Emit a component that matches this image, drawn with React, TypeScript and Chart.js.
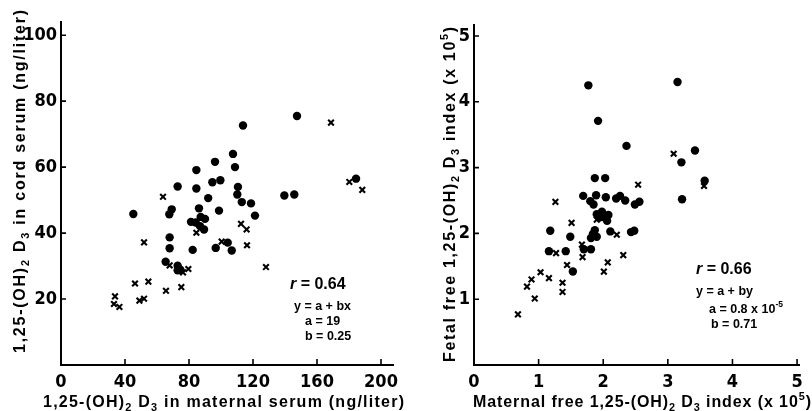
import React, { useEffect, useRef } from "react";
import { Chart, registerables } from "chart.js";

Chart.register(...registerables);

// ---------- Panel A: 1,25-(OH)2D3, cord vs maternal serum (ng/liter) ----------
const serumDotsMaternal = [147.5, 113.75, 107.5, 96.25, 108.75, 84.6, 99.6, 94.6, 110.6, 72.9, 84.6, 184.4, 139.6, 145.8, 110.2, 92, 113, 118.75, 45.2, 69.2, 67.7, 86.25, 98.75, 121.25, 87.3, 90, 81.25, 84.2, 86.9, 89.4, 67.9, 67.9, 82.3, 96.7, 104.2, 106.7, 65.4, 72.9, 72.9, 74.6];
const serumDotsCord = [75.5, 72.6, 64, 61.6, 60, 59.1, 56, 55.4, 54, 54.1, 53.5, 56.5, 51.4, 51.7, 51.7, 50.6, 49.4, 49, 45.8, 47.2, 45.7, 47.5, 46.8, 45.3, 44.9, 44.3, 43.4, 43.2, 42.1, 41.1, 38.7, 35.4, 34.9, 35.5, 37.1, 34.7, 31.3, 30.1, 28.7, 28.9];
const serumCrossMaternal = [168.75, 180.2, 188.3, 63.75, 112.5, 116, 84.6, 100.4, 116.25, 51.9, 67.9, 76.25, 79.6, 128.1, 46.25, 54.6, 65.6, 75.2, 33.75, 33.1, 36.5, 49, 51.9];
const serumCrossCord = [73.5, 55.5, 53.1, 51, 42.8, 41.1, 40.1, 37.4, 36.3, 37.2, 30.2, 28.1, 29.1, 29.7, 24.7, 25.3, 22.5, 23.6, 20.8, 18.5, 17.6, 19.5, 20.1];
const serumXTicks = [0, 40, 80, 120, 160, 200];
const serumYTicks = [20, 40, 60, 80, 100];

// ---------- Panel B: free 1,25-(OH)2D3 index (x 10^5) ----------
const indexDotsMaternal = [1.77, 3.15, 1.92, 2.36, 3.42, 3.21, 3.57, 3.22, 1.87, 2.03, 1.69, 1.89, 1.8, 1.85, 2.04, 2.2, 2.26, 2.34, 2.49, 2.56, 1.9, 1.98, 2.0, 2.08, 2.06, 1.94, 1.87, 1.84, 1.81, 1.9, 2.11, 2.43, 2.48, 1.7, 1.81, 1.49, 1.18, 1.16, 1.42, 1.53];
const indexDotsFetal = [4.25, 4.3, 3.71, 3.33, 3.26, 3.08, 2.8, 2.52, 2.84, 2.84, 2.57, 2.58, 2.49, 2.44, 2.55, 2.53, 2.57, 2.5, 2.44, 2.48, 2.29, 2.33, 2.25, 2.28, 2.19, 2.24, 2.05, 1.99, 1.93, 1.95, 2.03, 2.02, 2.04, 1.76, 1.76, 1.95, 2.04, 1.73, 1.73, 1.42];
const indexCrossMaternal = [3.09, 3.56, 2.54, 1.26, 1.51, 1.9, 2.21, 1.67, 1.27, 1.68, 2.31, 1.44, 2.07, 2.01, 1.03, 1.16, 0.89, 1.37, 0.82, 1.37, 0.94, 0.68];
const indexCrossFetal = [3.21, 2.72, 2.74, 2.48, 2.16, 2.21, 1.98, 1.83, 1.7, 1.64, 1.67, 1.52, 1.56, 1.42, 1.41, 1.32, 1.3, 1.25, 1.19, 1.11, 1.01, 0.77];
const indexXTicks = [0, 1, 2, 3, 4, 5];
const indexYTicks = [1, 2, 3, 4, 5];

// ---------- styling ----------
const TICK_FONT = "'Liberation Sans Narrow', 'DejaVu Sans Condensed', 'Liberation Sans', sans-serif";
const TEXT_FONT = "'Liberation Sans', 'DejaVu Sans', sans-serif";

type Run = { t: string; s?: "sub" | "sup"; i?: boolean };
type Note = { runs: Run[]; x: number; y: number; size: number };

interface PanelCfg {
  dotsX: number[]; dotsY: number[]; crossX: number[]; crossY: number[];
  xMax: number; yMax: number; xTicks: number[]; yTicks: number[];
  yAxisWidth: number; padTop: number;
  xTitle: Run[]; xTitleCenter: [number, number]; xTitleWidth: number;
  yTitle: Run[]; yTitleCenter: [number, number]; yTitleWidth: number;
  notes: Note[];
}

const D3: Run[] = [{ t: "1,25-(OH)" }, { t: "2", s: "sub" }, { t: " D" }, { t: "3", s: "sub" }];

const panelA: PanelCfg = {
  dotsX: serumDotsMaternal, dotsY: serumDotsCord,
  crossX: serumCrossMaternal, crossY: serumCrossCord,
  xMax: 207.5, yMax: 104, xTicks: serumXTicks, yTicks: serumYTicks,
  yAxisWidth: 61, padTop: 22,
  xTitle: [...D3, { t: " in maternal serum (ng/liter)" }], xTitleCenter: [223.5, 401], xTitleWidth: 361,
  yTitle: [...D3, { t: " in cord serum (ng/liter)" }], yTitleCenter: [19, 181.5], yTitleWidth: 343,
  notes: [
    { runs: [{ t: "r", i: true }, { t: " = 0.64" }], x: 290, y: 283, size: 16 },
    { runs: [{ t: "y = a + bx" }], x: 294, y: 305, size: 12.5 },
    { runs: [{ t: "a = 19" }], x: 305, y: 320, size: 12.5 },
    { runs: [{ t: "b = 0.25" }], x: 305, y: 335, size: 12.5 },
  ],
};

const panelB: PanelCfg = {
  dotsX: indexDotsMaternal, dotsY: indexDotsFetal,
  crossX: indexCrossMaternal, crossY: indexCrossFetal,
  xMax: 5.03, yMax: 5.167, xTicks: indexXTicks, yTicks: indexYTicks,
  yAxisWidth: 68, padTop: 25,
  xTitle: [{ t: "Maternal free " }, ...D3, { t: " index (x 10" }, { t: "5", s: "sup" }, { t: ")" }], xTitleCenter: [236, 401], xTitleWidth: 338,
  yTitle: [{ t: "Fetal free " }, ...D3, { t: " index (x 10" }, { t: "5", s: "sup" }, { t: ")" }], yTitleCenter: [43, 194.5], yTitleWidth: 335,
  notes: [
    { runs: [{ t: "r", i: true }, { t: " = 0.66" }], x: 290, y: 268, size: 16 },
    { runs: [{ t: "y = a + by" }], x: 290, y: 290, size: 12.5 },
    { runs: [{ t: "a = 0.8 x 10" }, { t: "-5", s: "sup" }], x: 303, y: 308, size: 12.5 },
    { runs: [{ t: "b = 0.71" }], x: 305, y: 323, size: 12.5 },
  ],
};

function fontFor(r: Run, size: number) {
  const fs = r.s ? size * 0.68 : size;
  return `${r.i ? "italic " : ""}bold ${fs}px ${TEXT_FONT}`;
}

function measureRuns(ctx: CanvasRenderingContext2D, runs: Run[], size: number) {
  let w = 0, n = 0;
  for (const r of runs) {
    ctx.font = fontFor(r, size);
    for (const ch of r.t) { w += ctx.measureText(ch).width; n++; }
  }
  return { w, n };
}

function drawRuns(ctx: CanvasRenderingContext2D, runs: Run[], size: number, x0: number, base: number, spacing: number) {
  let x = x0;
  for (const r of runs) {
    ctx.font = fontFor(r, size);
    const dy = r.s === "sub" ? size * 0.28 : r.s === "sup" ? -size * 0.45 : 0;
    for (const ch of r.t) {
      ctx.fillText(ch, x, base + dy);
      x += ctx.measureText(ch).width + spacing;
    }
  }
}

function drawTitle(ctx: CanvasRenderingContext2D, runs: Run[], size: number, cx: number, cy: number, width: number, rotate: boolean) {
  const { w, n } = measureRuns(ctx, runs, size);
  const spacing = n > 1 ? (width - w) / (n - 1) : 0;
  ctx.save();
  ctx.translate(cx, cy);
  if (rotate) ctx.rotate(-Math.PI / 2);
  ctx.textAlign = "left";
  ctx.textBaseline = "alphabetic";
  drawRuns(ctx, runs, size, -width / 2, size * 0.36, spacing);
  ctx.restore();
}

function buildConfig(cfg: PanelCfg): any {
  const decor = {
    id: "decor",
    afterDraw(chart: any) {
      const ctx: CanvasRenderingContext2D = chart.ctx;
      const xs = chart.scales.x, ys = chart.scales.y;
      const area = chart.chartArea;
      ctx.save();
      ctx.strokeStyle = "#000";
      ctx.fillStyle = "#000";
      ctx.lineWidth = 1.6;
      ctx.beginPath();
      for (const t of xs.ticks) {
        if (t.value === 0) continue;
        const px = xs.getPixelForValue(t.value);
        ctx.moveTo(px, area.bottom);
        ctx.lineTo(px, area.bottom - 6);
      }
      for (const t of ys.ticks) {
        const py = ys.getPixelForValue(t.value);
        ctx.moveTo(area.left, py);
        ctx.lineTo(area.left + 5, py);
      }
      ctx.stroke();
      drawTitle(ctx, cfg.xTitle, 16, cfg.xTitleCenter[0], cfg.xTitleCenter[1], cfg.xTitleWidth, false);
      drawTitle(ctx, cfg.yTitle, 16, cfg.yTitleCenter[0], cfg.yTitleCenter[1], cfg.yTitleWidth, true);
      ctx.textAlign = "left";
      ctx.textBaseline = "alphabetic";
      for (const note of cfg.notes) {
        drawRuns(ctx, note.runs, note.size, note.x, note.y + note.size * 0.36, 0);
      }
      ctx.restore();
    },
  };

  const tickFont = { family: TICK_FONT, size: 18, weight: "bold" as const };

  return {
    type: "scatter",
    data: {
      datasets: [
        {
          data: cfg.dotsX.map((x, i) => ({ x, y: cfg.dotsY[i] })),
          pointStyle: "circle",
          pointRadius: 4.2,
          backgroundColor: "#000",
          borderColor: "#000",
          borderWidth: 0,
        },
        {
          data: cfg.crossX.map((x, i) => ({ x, y: cfg.crossY[i] })),
          pointStyle: "crossRot",
          pointRadius: 4,
          backgroundColor: "#000",
          borderColor: "#000",
          borderWidth: 2.1,
        },
      ],
    },
    options: {
      responsive: false,
      animation: false,
      events: [],
      layout: { padding: { top: cfg.padTop, right: 13, left: 0, bottom: 0 }, autoPadding: false },
      plugins: { legend: { display: false }, tooltip: { enabled: false } },
      scales: {
        x: {
          type: "linear",
          min: 0,
          max: cfg.xMax,
          afterFit: (s: any) => { s.height = 46; },
          afterBuildTicks: (s: any) => { s.ticks = cfg.xTicks.map((v) => ({ value: v })); },
          grid: { display: false, drawTicks: false },
          border: { display: true, color: "#000", width: 2 },
          ticks: { color: "#000", font: tickFont, padding: 7, maxRotation: 0, autoSkip: false },
        },
        y: {
          type: "linear",
          min: 0,
          max: cfg.yMax,
          afterFit: (s: any) => { s.width = cfg.yAxisWidth; },
          afterBuildTicks: (s: any) => { s.ticks = cfg.yTicks.map((v) => ({ value: v })); },
          grid: { display: false, drawTicks: false },
          border: { display: true, color: "#000", width: 2 },
          ticks: { color: "#000", font: tickFont, padding: 4, autoSkip: false },
        },
      },
    },
    plugins: [decor],
  };
}

function PanelChart({ cfg, left }: { cfg: PanelCfg; left: number }) {
  const ref = useRef<HTMLCanvasElement>(null);
  useEffect(() => {
    const chart = new Chart(ref.current as HTMLCanvasElement, buildConfig(cfg));
    return () => chart.destroy();
  }, [cfg]);
  return (
    <canvas
      ref={ref}
      width={406}
      height={411}
      style={{ position: "absolute", left, top: 0, width: 406, height: 411, display: "block" }}
    />
  );
}

export default function App() {
  return (
    <div style={{ position: "fixed", left: 0, top: 0, width: 812, height: 411, background: "#fff", overflow: "hidden" }}>
      <PanelChart cfg={panelA} left={0} />
      <PanelChart cfg={panelB} left={406} />
    </div>
  );
}
